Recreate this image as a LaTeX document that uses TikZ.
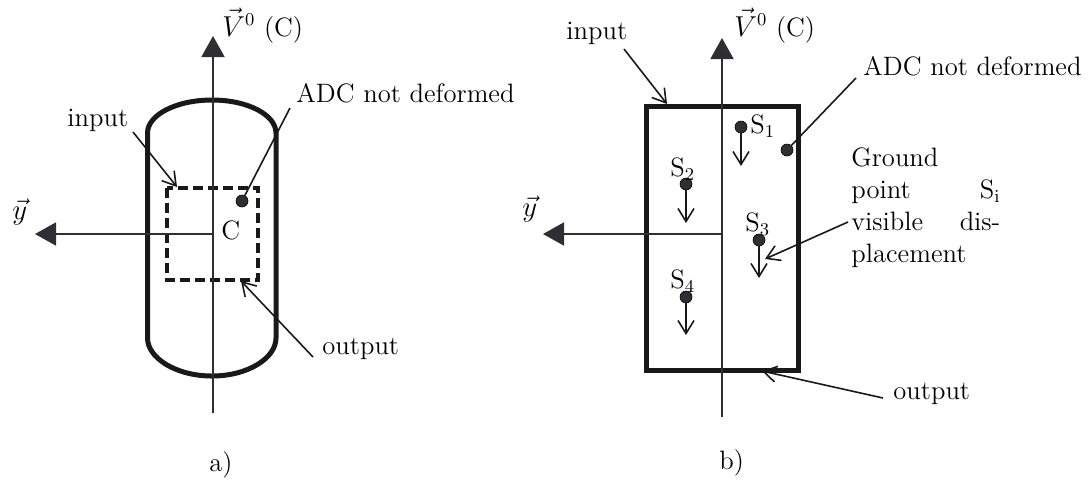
\documentclass[tikz,border=0pt]{standalone}
\usepackage{amsmath}
\usepackage{tikz}
\usetikzlibrary{arrows.meta}
\definecolor{ink}{HTML}{2E2E33}
\tikzstyle{spot}=[circle,fill=ink,draw=black,line width=0.3pt,minimum size=6pt,inner sep=0pt]
\tikzstyle{axisline}=[draw=ink,line width=0.9pt,-{Triangle[length=10.5pt,width=11.5pt]}]
\tikzstyle{leader}=[draw=black!90,line width=0.8pt,-{Straight Barb[length=6.5pt,width=8pt]}]
\tikzstyle{plainleader}=[draw=black!90,line width=0.8pt,-]
\tikzstyle{outline}=[draw=black!90,line width=2.5pt]
\tikzstyle{lab}=[inner sep=0pt,anchor=base west,font=\fontsize{13.3}{16}\selectfont]

\begin{document}
\begin{tikzpicture}[x=0.5pt,y=-0.5pt]
    \useasboundingbox (0,0) rectangle (1091,479);
    % Left sketch: the free ends first
    \coordinate (Abot) at (213,413);
    \coordinate (Atip) at (213,36);
    \coordinate (Ac) at (213,234);
    \coordinate (Aleft) at (35,234);
    \coordinate (Ain) at (133,132);
    \coordinate (Aint) at (177,187);
    \coordinate (Aout) at (313,357);
    \coordinate (Aoutt) at (241,281);
    \coordinate (Aadc) at (290,108);
    \draw[outline] (147.5,133) .. controls (147.5,115) and (176,100) .. (212,100) .. controls (248,100) and (276,115) .. (276,133) -- (276,338) .. controls (276,358) and (248,376) .. (212,376) .. controls (176,376) and (147.5,358) .. (147.5,338) -- cycle;
    \draw[draw=black!90,line width=2pt,dash pattern=on 5pt off 2.5pt] (167,188) rectangle (258,280);
    \path[axisline] (Abot) -- (Atip);
    \path[axisline] (Ac) -- (Aleft);
    \node[spot] (Aspot) at (242,201) {};
    \path[plainleader] (Aadc) -- (Aspot);
    \path[leader] (Ain) -- (Aint);
    \path[leader] (Aout) -- (Aoutt);
    % Left sketch: the labels
    \foreach \pos/\name/\txt in {{(222,36)/AV/$\vec{V}^0$ (C)}, {(12,219)/Ay/$\vec{y}$}, {(221,239)/AC/C}, {(296,102)/AA/ADC not deformed}, {(67,126)/AI/input}, {(322,354)/AO/output}, {(209,471)/Acap/a)}}
        \node[lab] (\name) at \pos {\txt};

    % Right sketch: the free ends first
    \coordinate (Bbot) at (722,417);
    \coordinate (Btip) at (722,38);
    \coordinate (Bc) at (722,234);
    \coordinate (Bleft) at (543,234);
    \coordinate (Bin) at (624,49);
    \coordinate (Bint) at (667,104);
    \coordinate (Bout) at (883,398);
    \coordinate (Boutt) at (762,371);
    \coordinate (Bgr) at (848,222);
    \coordinate (Bgrt) at (765,259);
    \coordinate (Badc) at (856,78);
    \draw[outline] (646,106) rectangle (798.5,370);
    \path[axisline] (Bbot) -- (Btip);
    \path[axisline] (Bc) -- (Bleft);
    % Ground points with their displacement
    \foreach \px/\py/\name/\low in {741/127/S1/166, 686/184/S2/223, 759/240/S3/278, 686/297/S4/335}{
        \node[spot] (\name) at (\px,\py) {};
        \coordinate (\name d) at (\px,\low);
        \path[leader] (\name) -- (\name d);
    }
    \node[spot] (Bspot) at (787,150) {};
    \path[plainleader] (Badc) -- (Bspot);
    \path[leader] (Bin) -- (Bint);
    \path[leader] (Bout) -- (Boutt);
    \path[leader] (Bgr) -- (Bgrt);
    % Right sketch: the labels
    \foreach \pos/\name/\txt in {{(734,36)/BV/$\vec{V}^0$ (C)}, {(522,216)/By/$\vec{y}$}, {(566,39)/BI/input}, {(863,75)/BA/ADC not deformed}, {(893,399)/BO/output}, {(719,469)/Bcap/b)}, {(750,133)/LS1/S$_1$}, {(670,176)/LS2/S$_2$}, {(745,231)/LS3/S$_3$}, {(670,288)/LS4/S$_4$}}
        \node[lab] (\name) at \pos {\txt};
    \node[lab,anchor=north west,text width=74.5pt,align=left] (Bgtxt) at (851,147) {Ground\\point \hfill S$_{\mathrm{i}}$\\visible \hfill dis-\\placement};
\end{tikzpicture}
\end{document}
